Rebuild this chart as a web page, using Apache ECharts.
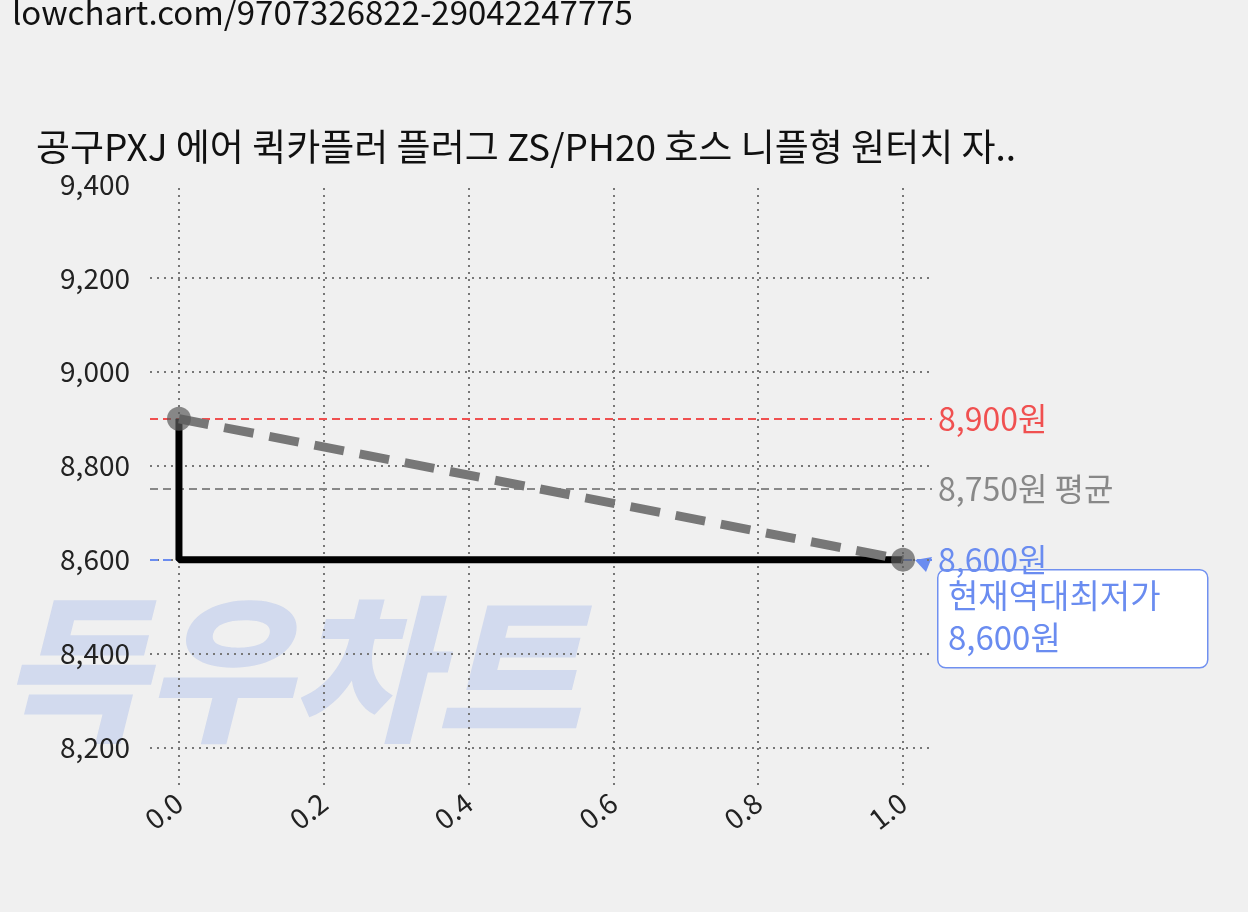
<!DOCTYPE html>
<html><head><meta charset="utf-8">
<script src="https://cdn.jsdelivr.net/npm/echarts@6/dist/echarts.min.js"></script>
<style>html,body{margin:0;background:#f0f0f0}#c{width:1248px;height:912px}</style>
</head><body><div id="c"></div>
<script>
const xVals=[0,1];
const prices=[8900,8600];
const xTicks=[0,0.2,0.4,0.6,0.8,1.0];
const yTicks=[8200,8400,8600,8800,9000,9200,9400];
const maxP=8900, avgP=8750, minP=8600;
const title='공구PXJ 에어 퀵카플러 플러그 ZS/PH20 호스 니플형 원터치 자..';
const url='lowchart.com/9707326822-29042247775';
const fmt=v=>v.toLocaleString('en-US');
const font='"Noto Sans CJK KR","Noto Sans",sans-serif';
const chart=echarts.init(document.getElementById('c'));
const dotted={color:'#777',type:[2,5],width:2};
chart.setOption({
  backgroundColor:'#f0f0f0',animation:false,
  textStyle:{fontFamily:font},
  graphic:[
    {type:'text',left:12,top:-4,style:{text:url,fill:'#111',font:'33px '+font}},
    {type:'text',left:36,top:128,style:{text:title,fill:'#111',font:'37px '+font}},
    {type:'text',left:0,top:590,z:-1,style:{text:'득우차트',fill:'rgba(120,150,230,0.25)',font:'italic 900 158px '+font}},
    {type:'rect',left:937,top:569,shape:{width:270,height:98,r:8},style:{fill:'#fff',stroke:'#7090f0',lineWidth:1.5}},
    {type:'text',left:948,top:574,style:{text:'현재역대최저가\n8,600원',fill:'#6a8cf0',font:'33px '+font,lineHeight:42}},
    {type:'polygon',shape:{points:[[915,560],[932,557],[926,572]]},style:{fill:'#6a8cf0'}}
  ],
  grid:{left:150,right:316,top:184,bottom:127},
  xAxis:{type:'value',min:-0.04,max:1.04,
    axisLine:{show:false},axisTick:{show:false},splitLine:{show:false},
    axisLabel:{customValues:xTicks,rotate:38,fontSize:28,color:'#222',margin:14,formatter:v=>v.toFixed(1)}},
  yAxis:{type:'value',min:8120,max:9400,
    axisLine:{show:false},axisTick:{show:false},splitLine:{show:false},
    axisLabel:{customValues:yTicks,fontSize:28,color:'#222',margin:20,formatter:v=>fmt(v)}},
  series:[
    {type:'line',data:[],silent:true,z:1,
     markLine:{symbol:'none',silent:true,z:1,label:{show:false},lineStyle:dotted,
       data:[...xTicks.map(x=>({xAxis:x})),...yTicks.slice(0,-1).map(y=>({yAxis:y}))]}},
    {type:'line',step:'start',data:xVals.map((x,i)=>[x,prices[i]]),showSymbol:false,
     lineStyle:{color:'#000',width:7},z:6},
    {type:'line',data:xVals.map((x,i)=>[x,prices[i]]),symbol:'circle',symbolSize:24,
     itemStyle:{color:'rgba(90,90,90,0.7)'},lineStyle:{color:'#777',width:9,type:[30,16]},z:7,
     markLine:{symbol:'none',silent:true,z:2,
       data:[
        {yAxis:maxP,lineStyle:{color:'#f05050',type:[8,5],width:2},label:{formatter:fmt(maxP)+'원',color:'#f05050',fontSize:32,position:'end',distance:6}},
        {yAxis:avgP,lineStyle:{color:'#888',type:[8,5],width:2},label:{formatter:fmt(avgP)+'원 평균',color:'#888',fontSize:32,position:'end',distance:6}},
        {yAxis:minP,lineStyle:{color:'#6a8cf0',type:[8,5],width:2},label:{formatter:fmt(minP)+'원',color:'#6a8cf0',fontSize:32,position:'end',distance:6}}
       ]}}
  ]
});
</script></body></html>
